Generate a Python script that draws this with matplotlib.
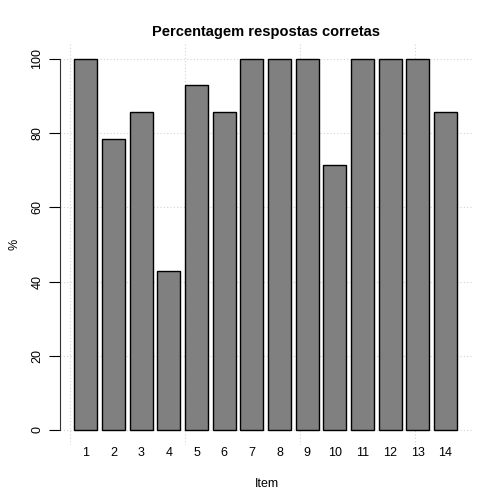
import matplotlib
matplotlib.use("Agg")
import matplotlib.pyplot as plt
import numpy as np

items = [str(i) for i in range(1, 15)]
pct = [100, 78.57, 85.71, 42.86, 92.86, 85.71, 100, 100, 100, 71.43, 100, 100, 100, 85.71]
yticks = [0, 20, 40, 60, 80, 100]

plt.rcParams['font.family'] = ['Liberation Sans', 'DejaVu Sans']

fig = plt.figure(figsize=(5.04, 5.04), dpi=100)
W = H = 504
x0px = 69.7; upx = 23.05
left_px, right_px = 60, 473
y0px, y100px = 430, 59
ups = (y0px - y100px) / 100.0
ax = fig.add_axes([left_px / W, 1 - (y0px + 4 * ups) / H,
                   (right_px - left_px) / W, (104 + 4) * ups / H])
ax.set_xlim((left_px - x0px) / upx, (right_px - x0px) / upx)
ax.set_ylim(-4, 104)

pos = np.arange(len(pct)) * 1.2 + 0.7
ax.bar(pos, pct, width=1.0, color='#808080', edgecolor='black', linewidth=1.0, zorder=2)

for y in yticks:
    ax.axhline(y, color='#d3d3d3', linestyle=(0, (1, 2)), linewidth=0.8, zorder=1)
for x in [0, 5, 10, 15]:
    ax.axvline(x, color='#d3d3d3', linestyle=(0, (1, 2)), linewidth=0.8, zorder=1)

for s in ax.spines.values():
    s.set_visible(False)
ax.spines['left'].set_visible(True)
ax.spines['left'].set_bounds(0, 100)
ax.spines['left'].set_color('#333333')

ax.set_yticks(yticks)
ax.set_yticklabels([str(v) for v in yticks], rotation=90, va='center', fontsize=9)
ax.tick_params(axis='y', length=8, width=0.8, pad=4)
ax.set_xticks(pos)
ax.set_xticklabels(items, fontsize=9)
ax.tick_params(axis='x', length=0, pad=1.5)

ax.set_xlabel('Item', fontsize=9, labelpad=14)
ax.set_ylabel('%', fontsize=9, labelpad=8)
ax.set_title('Percentagem respostas corretas', fontsize=10.5, fontweight='bold', pad=6)

fig.savefig('out.png', dpi=100)
